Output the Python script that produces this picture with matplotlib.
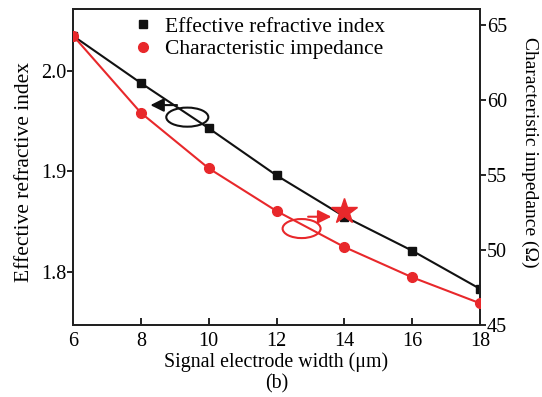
import matplotlib
matplotlib.use("Agg")
import matplotlib.pyplot as plt
from matplotlib.patches import Ellipse

plt.rcParams['font.family'] = ['Liberation Serif', 'DejaVu Serif']
plt.rcParams['mathtext.fontset'] = 'stix'

# signal electrode width (um)
width = [6, 8, 10, 12, 14, 16, 18]
# effective refractive index (left axis)
n_eff = [2.035, 1.988, 1.943, 1.896, 1.855, 1.821, 1.783]
# characteristic impedance in ohm (right axis)
z0 = [64.3, 59.15, 55.45, 52.6, 50.2, 48.18, 46.45]
# highlighted design point
star_x = 14
star_z = 52.6

black = '#111111'
red = '#e8282b'

W, H = 542, 397
fig = plt.figure(figsize=(W / 100, H / 100), dpi=100)
ax = fig.add_axes([73 / W, 1 - 325 / H, (480 - 73) / W, (325 - 9) / H])
ax2 = ax.twinx()

l1, = ax.plot(width, n_eff, color=black, lw=1.5, marker='s', ms=6, zorder=3,
              label='Effective refractive index')
l2, = ax2.plot(width, z0, color=red, lw=1.5, marker='o', ms=7, zorder=3,
               label='Characteristic impedance')
ax2.plot([star_x], [star_z], marker='*', ms=19, color=red, zorder=4, clip_on=False)

ax.set_xlim(6, 18)
ax.set_ylim(1.747, 2.0617)
ax2.set_ylim(45, 66.07)
ax.set_xticks(range(6, 19, 2))
ax.set_yticks([1.8, 1.9, 2.0])
ax2.set_yticks([45, 50, 55, 60, 65])

ax.tick_params(axis='x', direction='in', length=5, width=1.2, labelsize=14.5, pad=5)
ax.tick_params(axis='y', direction='out', length=4, width=1.2, labelsize=14.5, pad=1)
ax2.tick_params(axis='y', direction='out', length=4, width=1.2, labelsize=14.5, pad=1)
for a in (ax, ax2):
    for s in a.spines.values():
        s.set_linewidth(1.4)
        s.set_color('#222222')

ax.set_xlabel('Signal electrode width (μm)\n(b)', fontsize=14.3, labelpad=1, linespacing=1.15)
# axis titles placed by hand so they sit where the layout needs them
fig.text(25 / W, 1 - 172 / H, 'Effective refractive index', fontsize=15.5,
         rotation=90, ha='center', va='center')
fig.text(530 / W, 1 - 152 / H, 'Characteristic impedance (Ω)', fontsize=14,
         rotation=270, ha='center', va='center')

# left-pointing marker: black curve belongs to left axis
ax.add_patch(Ellipse((9.37, 1.954), 1.24, 0.019, fill=False, ec=black, lw=1.5, zorder=5))
ax.annotate('', xy=(8.2, 1.966), xytext=(9.15, 1.966),
            arrowprops=dict(arrowstyle='-|>', color=black, lw=1.5, mutation_scale=20), zorder=5)
# right-pointing marker: red curve belongs to right axis
ax2.add_patch(Ellipse((12.74, 51.43), 1.12, 1.27, fill=False, ec=red, lw=1.5, zorder=5))
ax2.annotate('', xy=(13.7, 52.22), xytext=(12.85, 52.22),
             arrowprops=dict(arrowstyle='-|>', color=red, lw=1.5, mutation_scale=20), zorder=5)

leg = ax2.legend(handles=[l1, l2], loc='upper left', bbox_to_anchor=(0.128, 1.0),
                 fontsize=15.5, frameon=True, fancybox=False, edgecolor='none',
                 facecolor='white', framealpha=1, handlelength=1.0, handletextpad=0.5,
                 borderaxespad=0.05, borderpad=0.3, labelspacing=0.12)
for h in leg.legend_handles:
    h.set_linestyle('none')

fig.savefig('out.png', dpi=100)
